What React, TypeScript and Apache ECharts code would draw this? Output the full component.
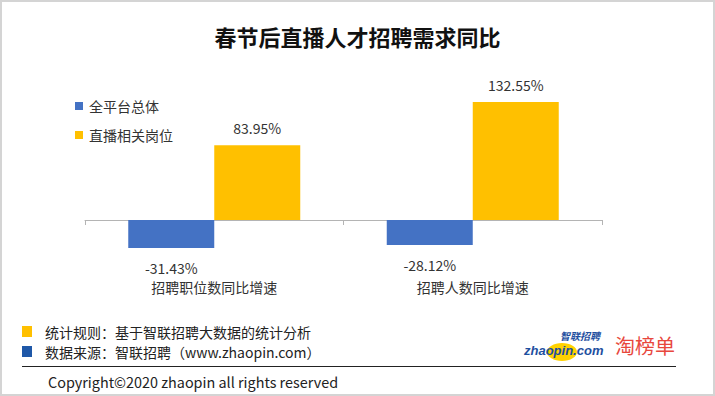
import React, { useEffect, useRef } from "react";
import * as echarts from "echarts";

const categories = ["招聘职位数同比增速", "招聘人数同比增速"];
const seriesNames = ["全平台总体", "直播相关岗位"];
const overallValues = [-31.43, -28.12];
const liveValues = [83.95, 132.55];
const footerLines = ["统计规则：基于智联招聘大数据的统计分析", "数据来源：智联招聘（www.zhaopin.com）"];
const copyright = "Copyright©2020 zhaopin all rights reserved";

const FONT = "'Noto Sans CJK SC', 'Noto Sans', sans-serif";

export default function App() {
  const ref = useRef<HTMLDivElement>(null);
  useEffect(() => {
    if (!ref.current) return;
    const chart = echarts.init(ref.current, null, { renderer: "svg" });
    chart.setOption({
      animation: false,
      backgroundColor: "#ffffff",
      textStyle: { fontFamily: FONT },
      title: {
        text: "春节后直播人才招聘需求同比",
        left: "center",
        top: 20,
        textStyle: { fontSize: 22, fontWeight: "bold", color: "#111", fontFamily: FONT },
      },
      legend: {
        orient: "vertical",
        left: 70,
        top: 94,
        itemWidth: 8,
        itemHeight: 8,
        itemGap: 15,
        icon: "rect",
        data: seriesNames,
        textStyle: { fontSize: 14, color: "#333", fontFamily: FONT, padding: [0, 0, 0, 1] },
      },
      grid: { left: 85, right: 113, top: 95.4, height: 160.2 },
      xAxis: {
        type: "category",
        data: categories,
        axisLine: { onZero: true, lineStyle: { color: "#b4b4b4", width: 1 } },
        axisTick: { show: true, length: 5, lineStyle: { color: "#b4b4b4" } },
        axisLabel: { margin: 24, fontSize: 14, color: "#333", fontFamily: FONT },
      },
      yAxis: {
        type: "value",
        min: -40,
        max: 140,
        interval: 20,
        show: false,
        splitLine: { show: false },
      },
      series: [
        {
          name: seriesNames[0],
          type: "bar",
          data: overallValues,
          barWidth: 86,
          barGap: "0%",
          itemStyle: { color: "#4472C4" },
          label: {
            show: true,
            position: "bottom",
            distance: 13,
            formatter: (p: any) => p.value.toFixed(2) + "%",
            fontSize: 14,
            color: "#333",
            fontFamily: FONT,
          },
        },
        {
          name: seriesNames[1],
          type: "bar",
          data: liveValues,
          barWidth: 86,
          barGap: "0%",
          itemStyle: { color: "#FFC000" },
          label: {
            show: true,
            position: "top",
            distance: 10,
            formatter: (p: any) => p.value.toFixed(2) + "%",
            fontSize: 14,
            color: "#333",
            fontFamily: FONT,
          },
        },
      ],
      graphic: [
        {
          type: "rect",
          shape: { x: 1, y: 1, width: 713, height: 394 },
          style: { fill: "none", stroke: "#d4d4d4", lineWidth: 2 },
          silent: true,
        },
        { type: "rect", shape: { x: 22, y: 326, width: 10, height: 11 }, style: { fill: "#FFC000" } },
        { type: "rect", shape: { x: 22, y: 346, width: 10, height: 11 }, style: { fill: "#1F58A8" } },
        {
          type: "text",
          x: 45,
          y: 332,
          style: { text: footerLines[0], fontSize: 14, fill: "#222", fontFamily: FONT, verticalAlign: "middle" },
        },
        {
          type: "text",
          x: 45,
          y: 352,
          style: { text: footerLines[1], fontSize: 14, fill: "#222", fontFamily: FONT, verticalAlign: "middle" },
        },
        {
          type: "line",
          shape: { x1: 22, y1: 366.5, x2: 676, y2: 366.5 },
          style: { stroke: "#222", lineWidth: 1 },
        },
        {
          type: "text",
          x: 48,
          y: 381,
          style: { text: copyright, fontSize: 14.4, fill: "#222", fontFamily: FONT, verticalAlign: "middle" },
        },
        // zhaopin logo
        { type: "ellipse", shape: { cx: 562, cy: 352, rx: 15, ry: 9 }, style: { fill: "#FFD200" } },
        {
          type: "text",
          x: 524,
          y: 350,
          style: {
            text: "zhaopin.com",
            fontSize: 13,
            fontWeight: "bold",
            fontStyle: "italic",
            fill: "#1E4FA0",
            fontFamily: "'Liberation Sans', sans-serif",
            verticalAlign: "middle",
          },
        },
        {
          type: "text",
          x: 560,
          y: 335,
          style: {
            text: "智联招聘",
            fontSize: 10,
            fontWeight: "bold",
            fontStyle: "italic",
            fill: "#1E4FA0",
            fontFamily: FONT,
            verticalAlign: "middle",
          },
        },
        {
          type: "text",
          x: 615,
          y: 345,
          style: {
            text: "淘榜单",
            fontSize: 20,
            fill: "#E8473D",
            fontFamily: FONT,
            verticalAlign: "middle",
          },
        },
      ],
    });
    return () => chart.dispose();
  }, []);
  return (
    <div
      ref={ref}
      style={{ position: "fixed", left: 0, top: 0, width: 715, height: 396 }}
    />
  );
}
